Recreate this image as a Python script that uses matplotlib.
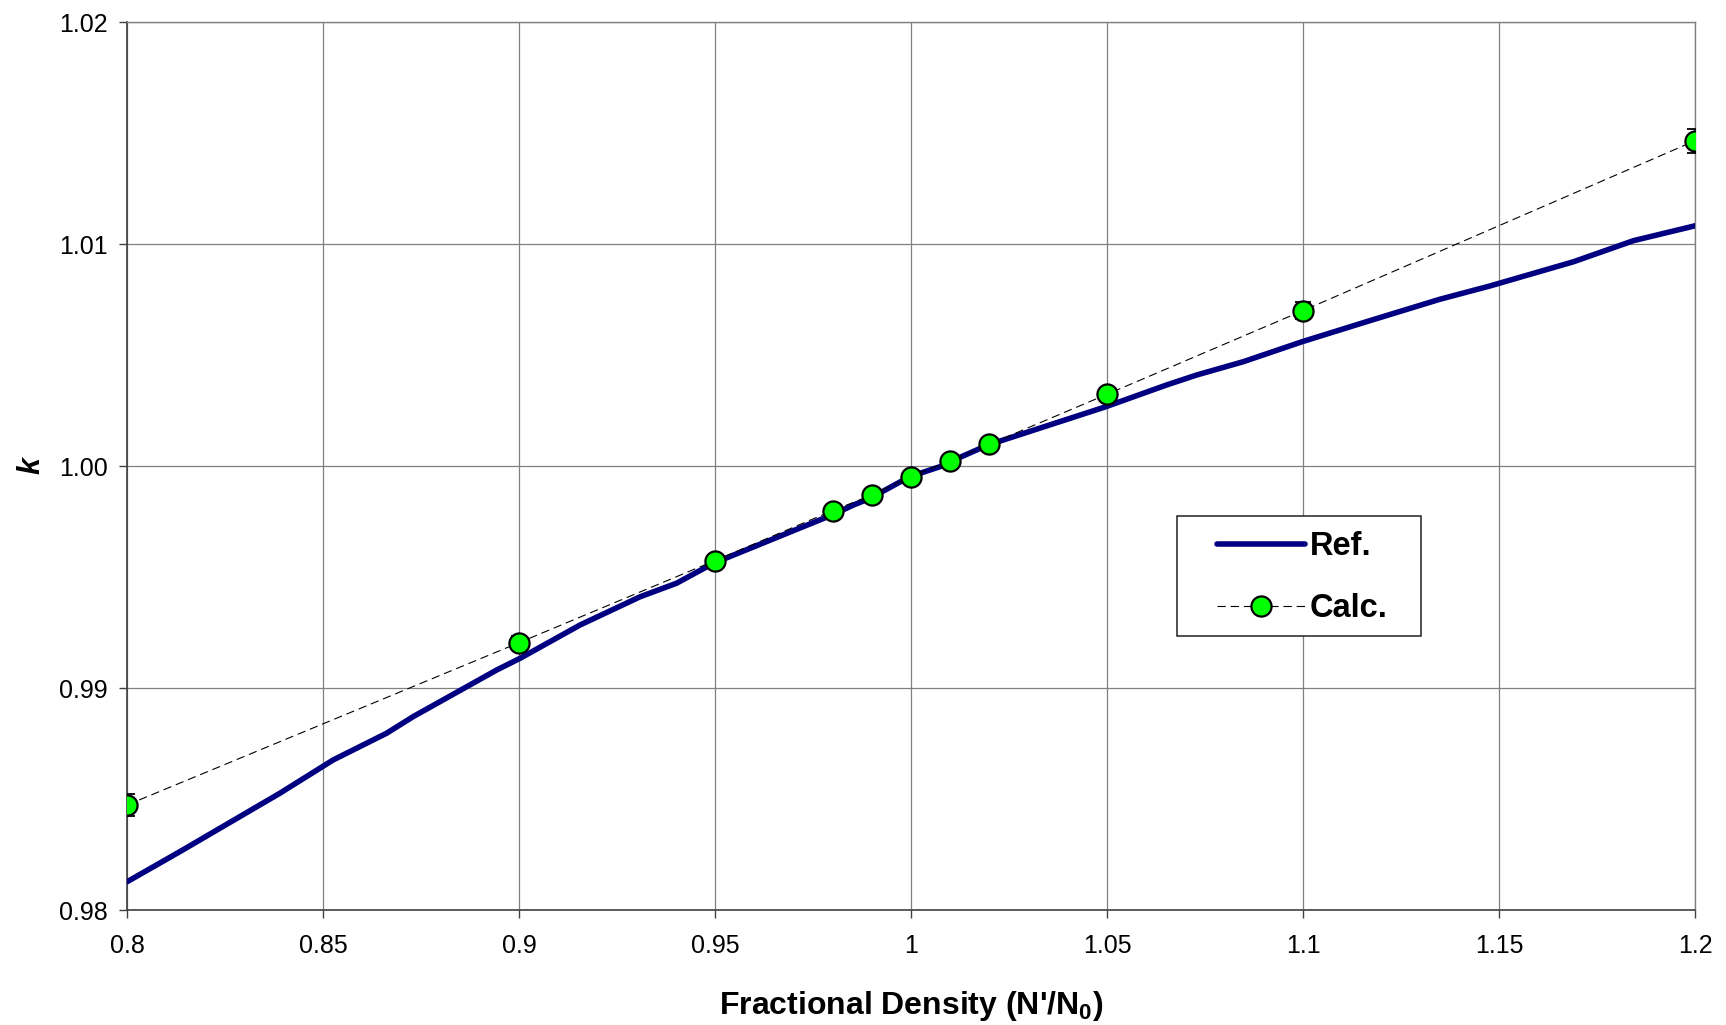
import matplotlib
matplotlib.use("Agg")
import matplotlib.pyplot as plt
from matplotlib.patches import Rectangle

plt.rcParams['font.family'] = ['Liberation Sans', 'DejaVu Sans']
plt.rcParams['mathtext.fontset'] = 'custom'
plt.rcParams['mathtext.rm'] = 'Liberation Sans'
plt.rcParams['mathtext.bf'] = 'Liberation Sans:bold'
plt.rcParams['lines.scale_dashes'] = False

# Reference curve
ref_x = [0.8000, 0.8135, 0.8390, 0.8526, 0.8662, 0.8730, 0.8943, 0.9003, 0.9156, 0.9309,
         0.9402, 0.9496, 0.9798, 0.9853, 0.9895, 0.9997, 1.0074, 1.0099, 1.0197, 1.0497,
         1.0652, 1.0729, 1.0848, 1.0998, 1.1162, 1.1349, 1.1477, 1.1690, 1.1843, 1.2000]
ref_k = [0.98127, 0.98263, 0.98526, 0.98676, 0.98796, 0.98871, 0.99081, 0.99134, 0.99284, 0.99411,
         0.99472, 0.99562, 0.99779, 0.99824, 0.99854, 0.99952, 0.99997, 1.00019, 1.00095, 1.00267,
         1.00365, 1.00410, 1.00470, 1.00560, 1.00650, 1.00751, 1.00811, 1.00920, 1.01015, 1.01082]

# Calculated points
calc_x = [0.8, 0.9, 0.95, 0.98, 0.99, 1.0, 1.01, 1.02, 1.05, 1.1, 1.2]
calc_k = [0.98473, 0.99204, 0.99574, 0.99799, 0.99869, 0.99952, 1.00024, 1.00098, 1.00323, 1.00700, 1.01465]
calc_err = [0.0005, 0.0003, 0.0002, 0.0002, 0.0002, 0.0002, 0.0002, 0.0002, 0.0003, 0.00037, 0.00053]

x_ticks = [0.8, 0.85, 0.9, 0.95, 1.0, 1.05, 1.1, 1.15, 1.2]
x_ticklabels = ['0.8', '0.85', '0.9', '0.95', '1', '1.05', '1.1', '1.15', '1.2']
y_ticks = [0.98, 0.99, 1.00, 1.01, 1.02]
y_ticklabels = ['0.98', '0.99', '1.00', '1.01', '1.02']

fig = plt.figure(figsize=(17.26, 10.25), dpi=100)
ax = fig.add_axes([127/1726, 1 - 910/1025, 1568/1726, 888/1025])

ax.set_xlim(0.8, 1.2)
ax.set_ylim(0.98, 1.02)
ax.set_xticks(x_ticks)
ax.set_xticklabels(x_ticklabels)
ax.set_yticks(y_ticks)
ax.set_yticklabels(y_ticklabels)
ax.grid(True, color='#808080', linewidth=0.9)
ax.set_axisbelow(True)

for s in ['top', 'right']:
    ax.spines[s].set_color('#808080')
    ax.spines[s].set_linewidth(1.0)
for s in ['left', 'bottom']:
    ax.spines[s].set_color('#404040')
    ax.spines[s].set_linewidth(1.2)

ax.tick_params(axis='both', direction='out', length=6, width=1.0, color='#404040',
               labelsize=18, labelcolor='black')
ax.tick_params(axis='x', pad=11)
ax.tick_params(axis='y', pad=8)

ax.plot(ref_x, ref_k, color='#000080', linewidth=4.0, solid_capstyle='round',
        solid_joinstyle='round', label='Ref.', zorder=3)
ax.errorbar(calc_x, calc_k, yerr=calc_err, fmt='none', ecolor='black', elinewidth=1.1,
            capsize=6, capthick=1.3, zorder=4)
ax.plot(calc_x, calc_k, color='black', linewidth=0.8, dashes=(6, 3.5),
        marker='o', markersize=14.5, markerfacecolor='#00FF00', markeredgecolor='black',
        markeredgewidth=1.6, label='Calc.', zorder=5)

ax.set_xlabel("Fractional Density (N'/N$_\\mathbf{0}$)", fontsize=23, fontweight='bold',
              va='center')
ax.xaxis.set_label_coords(0.5, (910 - 1006) / 888)
ax.set_ylabel('k', fontsize=22, fontweight='bold', style='italic', va='center')
ax.yaxis.set_label_coords((31 - 127) / 1568, 0.5)

# Legend box
x0 = (1177 - 127) / 1568
x1 = (1420.7 - 127) / 1568
y0 = (910 - 635.7) / 888
y1 = (910 - 515.7) / 888
ax.add_patch(Rectangle((x0, y0), x1 - x0, y1 - y0, transform=ax.transAxes,
                       facecolor='white', edgecolor='#202020', linewidth=1.1, zorder=6))
leg = ax.legend(loc='center left', bbox_to_anchor=((1217 - 127) / 1568, (910 - 577.5) / 888),
                frameon=False, borderpad=0, borderaxespad=0, handlelength=2.7,
                handletextpad=0.15, labelspacing=0.95, numpoints=1,
                prop={'family': 'Liberation Sans', 'weight': 'bold', 'size': 23.5})
leg.set_zorder(7)

fig.savefig('out.png', dpi=100)
